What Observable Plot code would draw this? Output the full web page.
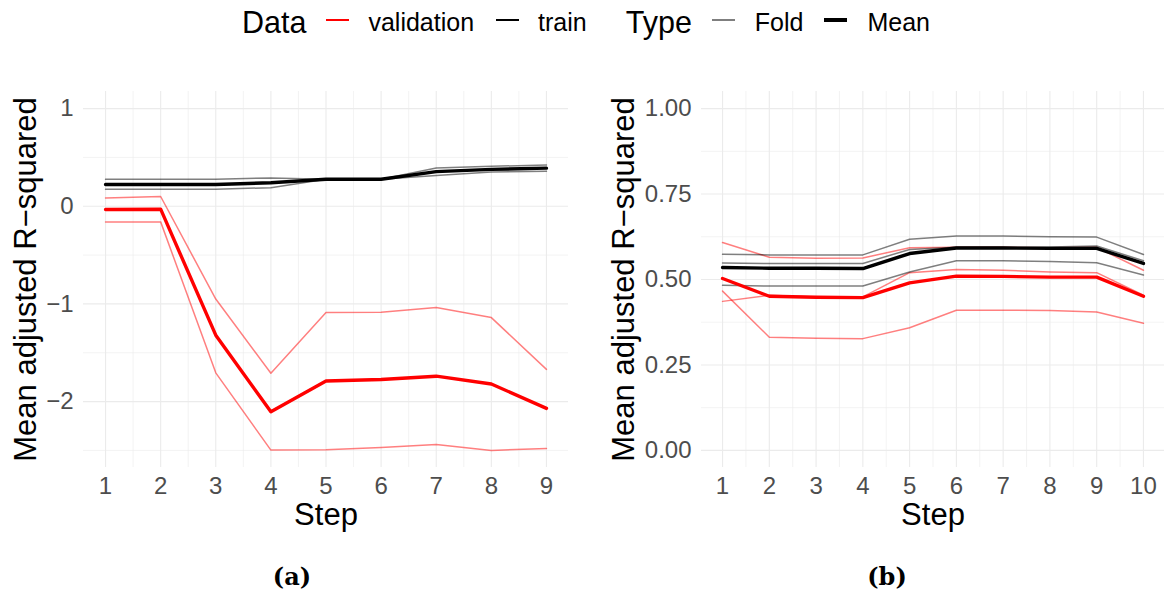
<!DOCTYPE html>
<html>
<head>
<meta charset="utf-8">
<script src="https://cdn.jsdelivr.net/npm/d3@7"></script>
<script src="https://cdn.jsdelivr.net/npm/@observablehq/plot@0.6"></script>
<style>
  html, body { margin: 0; padding: 0; background: #fff; overflow: hidden; }
  body { width: 1164px; height: 601px; position: relative; font-family: "Liberation Sans", Arial, Helvetica, sans-serif; }
  #legend { position: absolute; top: 0; left: 242px; height: 44px; display: flex; align-items: center; white-space: nowrap; color: #000; }
  #legend .ttl { font-size: 30.5px; line-height: 1; }
  #legend .lab { font-size: 25px; line-height: 1; }
  #legend svg { position: relative; top: -2px; display: block; }
  .panel { position: absolute; top: 60px; }
  .sub { position: absolute; top: 565px; width: 200px; text-align: center; font-family: "DejaVu Serif", serif; font-weight: bold; font-size: 24px; line-height: 24px; color: #000; }
</style>
</head>
<body>
<div id="legend"></div>
<div id="pa" class="panel" style="left:0px"></div>
<div id="pb" class="panel" style="left:590px"></div>
<div class="sub" style="left:192px">(a)</div>
<div class="sub" style="left:787px">(b)</div>
<script>
// ---------- data ----------
const dataLevels = ["validation", "train"];
const typeLevels = ["Fold", "Mean"];
const xLabel = "Step";
const yLabel = "Mean adjusted R\u2212squared";

// panel (a)
const stepsA = [1, 2, 3, 4, 5, 6, 7, 8, 9];
const aTrainFold1 = [0.276, 0.276, 0.276, 0.290, 0.276, 0.276, 0.392, 0.409, 0.423];
const aTrainFold2 = [0.174, 0.174, 0.174, 0.190, 0.276, 0.276, 0.314, 0.350, 0.358];
const aTrainMean  = [0.223, 0.223, 0.223, 0.240, 0.276, 0.276, 0.355, 0.378, 0.390];
const aValFold1   = [0.085, 0.100, -0.950, -1.710, -1.088, -1.085, -1.037, -1.140, -1.670];
const aValFold2   = [-0.160, -0.160, -1.706, -2.497, -2.492, -2.470, -2.440, -2.500, -2.480];
const aValMean    = [-0.034, -0.030, -1.320, -2.105, -1.790, -1.774, -1.740, -1.820, -2.070];
const aYTicks = [-2, -1, 0, 1];
const aYMinor = [-2.5, -1.5, -0.5, 0.5];
const aXMinor = [1.5, 2.5, 3.5, 4.5, 5.5, 6.5, 7.5, 8.5];

// panel (b)
const stepsB = [1, 2, 3, 4, 5, 6, 7, 8, 9, 10];
const bTrainFold1 = [0.574, 0.572, 0.572, 0.572, 0.618, 0.627, 0.627, 0.625, 0.624, 0.573];
const bTrainFold2 = [0.548, 0.547, 0.547, 0.547, 0.588, 0.594, 0.594, 0.595, 0.598, 0.555];
const bTrainFold3 = [0.483, 0.481, 0.481, 0.481, 0.522, 0.555, 0.555, 0.553, 0.549, 0.513];
const bTrainMean  = [0.535, 0.533, 0.533, 0.532, 0.576, 0.592, 0.592, 0.591, 0.591, 0.547];
const bValFold1   = [0.608, 0.565, 0.562, 0.563, 0.593, 0.594, 0.594, 0.593, 0.594, 0.527];
const bValFold2   = [0.436, 0.454, 0.449, 0.449, 0.520, 0.529, 0.527, 0.522, 0.520, 0.454];
const bValFold3   = [0.466, 0.331, 0.328, 0.327, 0.359, 0.410, 0.410, 0.409, 0.405, 0.372];
const bValMean    = [0.503, 0.451, 0.448, 0.447, 0.490, 0.510, 0.509, 0.507, 0.507, 0.451];
const bYTicks = [0, 0.25, 0.5, 0.75, 1];
const bYMinor = [0.125, 0.375, 0.625, 0.875];
const bXMinor = [1.5, 2.5, 3.5, 4.5, 5.5, 6.5, 7.5, 8.5, 9.5];

// ---------- helpers ----------
const RED = "#ff0000", BLACK = "#000000";
function table(steps, series) {
  const rows = [];
  series.forEach(s => s.values.forEach((v, i) => rows.push({step: steps[i], value: v, data: s.data, type: s.type, id: s.id})));
  return rows;
}

function panel({steps, series, xDomain, yDomain, yTicks, yMinor, xMinor, tickFormat, width, marginLeft, marginRight, yLabelDx}) {
  const rows = table(steps, series);
  const sel = (d, t) => rows.filter(r => r.data === d && r.type === t);
  const grid = "#ebebeb";
  return Plot.plot({
    width, height: 480,
    marginLeft, marginRight, marginTop: 31, marginBottom: 73,
    style: {fontFamily: "'Liberation Sans', Arial, Helvetica, sans-serif", background: "transparent", color: "#4d4d4d", overflow: "visible"},
    x: {domain: xDomain, label: null},
    y: {domain: yDomain, label: null},
    marks: [
      Plot.ruleX(xMinor, {stroke: grid, strokeWidth: 0.6}),
      Plot.ruleY(yMinor, {stroke: grid, strokeWidth: 0.6}),
      Plot.ruleX(steps, {stroke: grid, strokeWidth: 1.1}),
      Plot.ruleY(yTicks, {stroke: grid, strokeWidth: 1.1}),
      Plot.line(sel("validation", "Fold"), {x: "step", y: "value", z: "id", stroke: RED, strokeOpacity: 0.5, strokeWidth: 1.5}),
      Plot.line(sel("train", "Fold"), {x: "step", y: "value", z: "id", stroke: BLACK, strokeOpacity: 0.5, strokeWidth: 1.5}),
      Plot.line(sel("validation", "Mean"), {x: "step", y: "value", stroke: RED, strokeWidth: 3.4}),
      Plot.line(sel("train", "Mean"), {x: "step", y: "value", stroke: BLACK, strokeWidth: 3.4}),
      Plot.axisX(steps, {tickSize: 0, tickPadding: 9, fontSize: 24, color: "#4d4d4d", label: null, tickFormat: d => String(d)}),
      Plot.axisY(yTicks, {tickSize: 0, tickPadding: 10, fontSize: 24, color: "#4d4d4d", label: null, tickFormat}),
      Plot.text([xLabel], {text: d => d, frameAnchor: "bottom", textAnchor: "middle", lineAnchor: "middle", dy: 48, fontSize: 31, fill: "#000"}),
      Plot.text([yLabel], {text: d => d, frameAnchor: "left", textAnchor: "middle", lineAnchor: "middle", rotate: -90, dx: yLabelDx, fontSize: 31, fill: "#000"})
    ]
  });
}

document.getElementById("pa").append(panel({
  steps: stepsA,
  series: [
    {id: "vf1", data: "validation", type: "Fold", values: aValFold1},
    {id: "vf2", data: "validation", type: "Fold", values: aValFold2},
    {id: "tf1", data: "train", type: "Fold", values: aTrainFold1},
    {id: "tf2", data: "train", type: "Fold", values: aTrainFold2},
    {id: "vm", data: "validation", type: "Mean", values: aValMean},
    {id: "tm", data: "train", type: "Mean", values: aTrainMean}
  ],
  xDomain: [0.6, 9.4], yDomain: [-2.675, 1.175],
  yTicks: aYTicks, yMinor: aYMinor, xMinor: aXMinor,
  tickFormat: d => d3.format("d")(d).replace("-", "\u2212"),
  width: 580, marginLeft: 83, marginRight: 12, yLabelDx: -57
}));

document.getElementById("pb").append(panel({
  steps: stepsB,
  series: [
    {id: "vf1", data: "validation", type: "Fold", values: bValFold1},
    {id: "vf2", data: "validation", type: "Fold", values: bValFold2},
    {id: "vf3", data: "validation", type: "Fold", values: bValFold3},
    {id: "tf1", data: "train", type: "Fold", values: bTrainFold1},
    {id: "tf2", data: "train", type: "Fold", values: bTrainFold2},
    {id: "tf3", data: "train", type: "Fold", values: bTrainFold3},
    {id: "vm", data: "validation", type: "Mean", values: bValMean},
    {id: "tm", data: "train", type: "Mean", values: bTrainMean}
  ],
  xDomain: [0.55, 10.45], yDomain: [-0.05, 1.05],
  yTicks: bYTicks, yMinor: bYMinor, xMinor: bXMinor,
  tickFormat: d3.format(".2f"),
  width: 574, marginLeft: 111, marginRight: 0, yLabelDx: -77
}));

// ---------- legend ----------
(function legend() {
  const L = document.getElementById("legend");
  function span(cls, txt, mr) {
    const s = document.createElement("span");
    s.className = cls; s.textContent = txt; s.style.marginRight = mr + "px";
    L.append(s);
  }
  function key(color, opacity, w, mr) {
    const svg = d3.create("svg").attr("width", 23).attr("height", 10).style("margin-right", mr + "px");
    svg.append("line").attr("x1", 0).attr("x2", 23).attr("y1", 5).attr("y2", 5)
      .attr("stroke", color).attr("stroke-opacity", opacity).attr("stroke-width", w);
    L.append(svg.node());
  }
  span("ttl", "Data", 20);
  key(RED, 1, 2, 19); span("lab", dataLevels[0], 22);
  key(BLACK, 1, 2, 19); span("lab", dataLevels[1], 39);
  span("ttl", "Type", 20);
  key(BLACK, 0.5, 2, 20); span("lab", typeLevels[0], 21);
  key(BLACK, 1, 4, 20); span("lab", typeLevels[1], 0);
})();
</script>
</body>
</html>
